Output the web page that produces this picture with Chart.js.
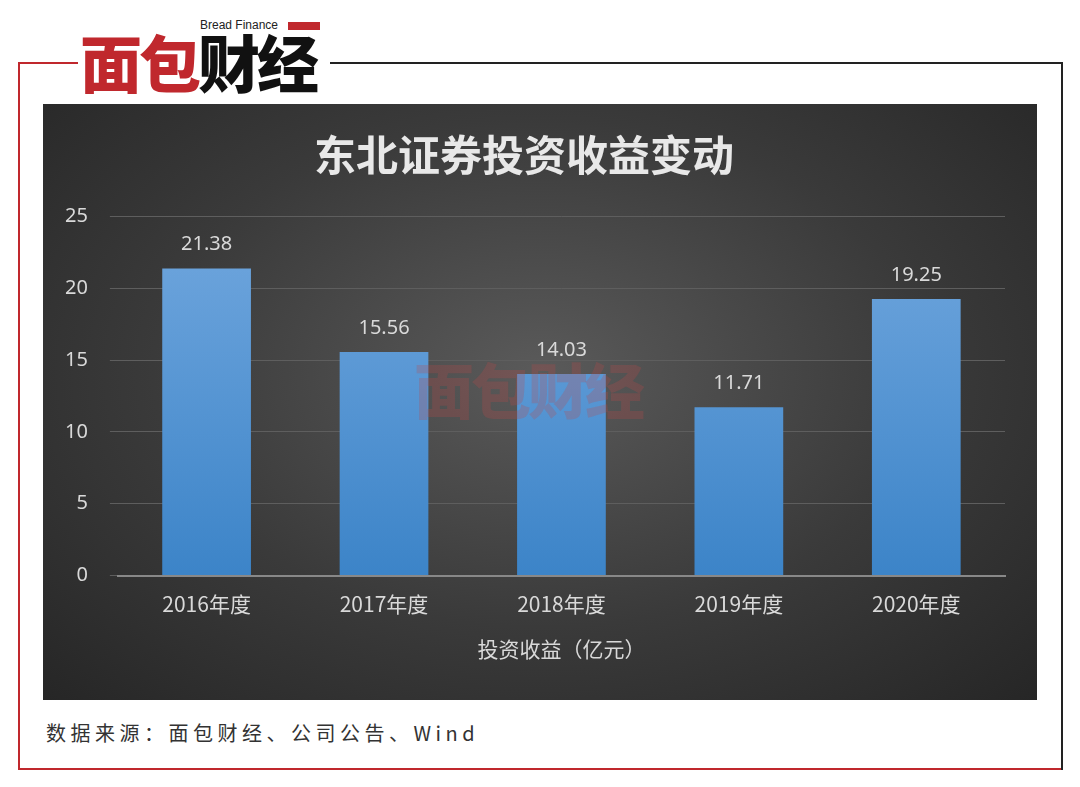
<!DOCTYPE html>
<html>
<head>
<meta charset="utf-8">
<script src="https://cdn.jsdelivr.net/npm/chart.js@4.4.0/dist/chart.umd.min.js"></script>
<style>
  body { margin: 0; background: #fff; width: 1080px; height: 787px; position: relative; overflow: hidden; font-family: "Noto Sans CJK SC", sans-serif; }
  .frame-l { position: absolute; left: 18px; top: 62px; width: 2px; height: 708px; background: #c0282d; }
  .frame-b { position: absolute; left: 18px; top: 768px; width: 1045px; height: 2px; background: #c0282d; }
  .frame-r { position: absolute; left: 1061px; top: 62px; width: 2px; height: 708px; background: #222; }
  .frame-t { position: absolute; left: 330px; top: 62px; width: 733px; height: 2px; background: #222; }
  .frame-t2 { position: absolute; left: 18px; top: 62px; width: 60px; height: 2px; background: #c0282d; }
  .logo { position: absolute; left: 80px; top: 30px; font-size: 62px; font-weight: 900; letter-spacing: -3px; line-height: 1; }
  .logo .r { color: #c0282d; }
  .logo .k { color: #111; }
  .brand { position: absolute; left: 200px; top: 18px; font: 12px "Liberation Sans", sans-serif; color: #222; }
  .brand-bar { position: absolute; left: 288px; top: 22px; width: 32px; height: 8px; background: #c0282d; }
  .panel { position: absolute; left: 43px; top: 104px; width: 994px; height: 596px;
    background: radial-gradient(ellipse at 50% 45%, #5a5a5a 0%, #3a3a3a 55%, #262626 100%); }
  .wm { position: absolute; left: 414px; top: 358px; font-size: 60px; font-weight: 900; color: rgba(190,70,70,0.25); letter-spacing: -3px; line-height: 1; }
  .source { position: absolute; left: 46px; top: 718px; font-size: 20px; color: #333; letter-spacing: 4.5px; font-family: "Noto Sans CJK SC", monospace; }
</style>
</head>
<body>
<div class="frame-l"></div><div class="frame-b"></div><div class="frame-r"></div><div class="frame-t"></div><div class="frame-t2"></div>
<div class="brand">Bread Finance</div><div class="brand-bar"></div>
<div class="logo"><span class="r">面包</span><span class="k">财经</span></div>
<div class="panel"><canvas id="c" width="994" height="596"></canvas></div>
<div class="wm">面包财经</div>
<div class="source">数据来源：面包财经、公司公告、Wind</div>
<script>
const categories = ['2016年度', '2017年度', '2018年度', '2019年度', '2020年度'];
const values = [21.38, 15.56, 14.03, 11.71, 19.25];
const seriesName = '投资收益（亿元）';

const labelPlugin = {
  id: 'labels',
  afterDatasetsDraw(chart) {
    const ctx = chart.ctx;
    const meta = chart.getDatasetMeta(0);
    ctx.save();
    ctx.fillStyle = '#d9d9d9';
    ctx.font = '20px "Noto Sans", sans-serif';
    ctx.textAlign = 'center';
    meta.data.forEach((bar, i) => {
      ctx.fillText(values[i].toFixed(2), bar.x, bar.y - 18);
    });
    ctx.restore();
  }
};

new Chart(document.getElementById('c'), {
  type: 'bar',
  data: {
    labels: categories,
    datasets: [{
      label: seriesName,
      data: values,
      backgroundColor: (c) => {
        const area = c.chart.chartArea;
        if (!area) return '#5b9bd5';
        const g = c.chart.ctx.createLinearGradient(0, area.top, 0, area.bottom);
        g.addColorStop(0, '#71a7de');
        g.addColorStop(1, '#3c84c8');
        return g;
      },
      barPercentage: 0.5,
      categoryPercentage: 1
    }]
  },
  options: {
    responsive: false,
    animation: false,
    layout: { padding: { left: 0, right: 32, top: 0, bottom: 34 } },
    plugins: {
      legend: { display: false },
      tooltip: { enabled: false },
      title: {
        display: true, text: '东北证券投资收益变动', color: '#e8e8e8',
        font: { size: 42, weight: 'bold', family: '"Noto Sans CJK SC"' },
        padding: { top: 26, bottom: 36 }
      }
    },
    scales: {
      x: {
        grid: { display: false },
        border: { color: '#888', width: 2 },
        ticks: { color: '#d9d9d9', font: { size: 21, family: '"Noto Sans CJK SC"' }, padding: 8 },
        title: { display: true, text: seriesName, color: '#d9d9d9', font: { size: 21, family: '"Noto Sans CJK SC"' }, padding: { top: 12 } }
      },
      y: {
        min: 0, max: 25,
        ticks: { stepSize: 5, color: '#d9d9d9', font: { size: 20, family: '"Noto Sans"' }, padding: 22 },
        grid: { color: '#5e5e5e', lineWidth: 1 },
        border: { display: false }
      }
    }
  },
  plugins: [labelPlugin]
});
</script>
</body>
</html>
